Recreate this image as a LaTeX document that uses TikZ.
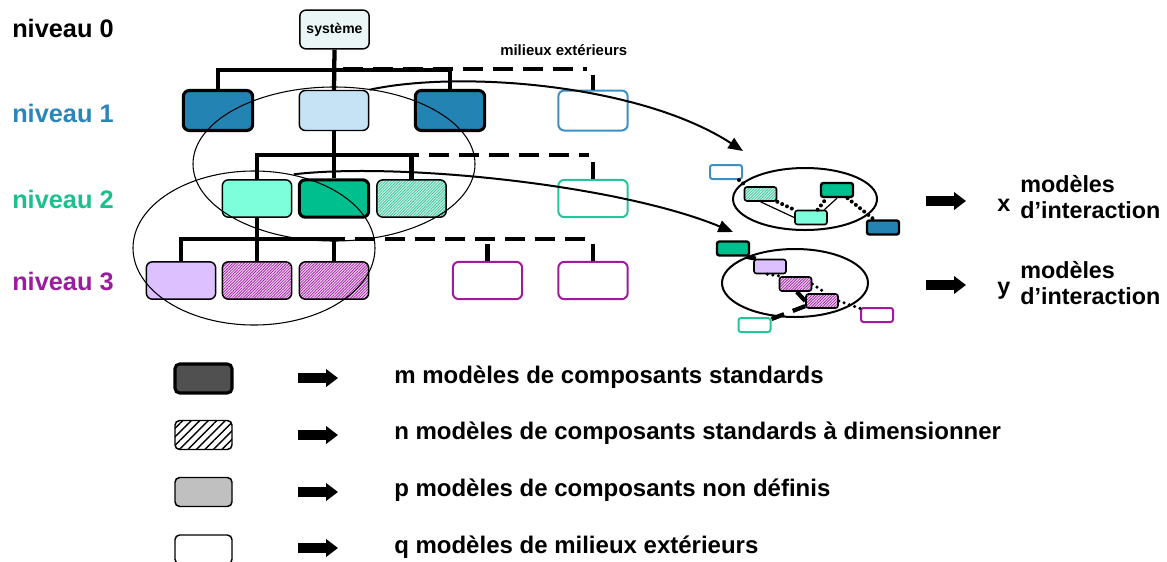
\documentclass[tikz,border=0pt]{standalone}
\usepackage{fontspec}
\setmainfont{Liberation Sans}
\usetikzlibrary{arrows.meta,patterns.meta}

\definecolor{stdblue}{HTML}{2384B4}
\definecolor{lightblue}{HTML}{C5E3F5}
\definecolor{extblue}{HTML}{3A8FC4}
\definecolor{sysfill}{HTML}{EAF6F6}
\definecolor{aqua}{HTML}{7DFFDB}
\definecolor{stdgreen}{HTML}{00BF8F}
\definecolor{extgreen}{HTML}{25C49A}
\definecolor{hgbg}{HTML}{D2F6EA}
\definecolor{hgline}{HTML}{3CC39C}
\definecolor{lavender}{HTML}{DCC0FF}
\definecolor{extpurple}{HTML}{A0199F}
\definecolor{hpbg}{HTML}{F2D4F2}
\definecolor{hpline}{HTML}{A42CA8}
\definecolor{txtblue}{HTML}{2A86B8}
\definecolor{txtgreen}{HTML}{1CC08F}
\definecolor{txtpurple}{HTML}{9C1C9E}
\definecolor{stdgray}{HTML}{505050}
\definecolor{undefgray}{HTML}{C0C0C0}

\begin{document}
\begin{tikzpicture}[x=0.75pt,y=-0.75pt,
  font=\bfseries,
  box/.style={draw, rounded corners=4.5pt, minimum width=52pt, minimum height=28pt,
    inner sep=0pt, line width=1.1pt},
  stdbox/.style={box, line width=2.3pt},
  extbox/.style={box, fill=white, line width=1.5pt},
  sbox/.style={draw, rounded corners=1.8pt, minimum width=24pt, minimum height=10.5pt,
    inner sep=0pt, line width=1.2pt},
  sstd/.style={sbox, line width=1.8pt},
  sext/.style={sbox, fill=white, line width=1.5pt},
  hatchgreen/.style={preaction={fill=hgbg}, pattern={Lines[angle=45,distance=1.5pt,line width=0.6pt]}, pattern color=hgline},
  hatchpurple/.style={preaction={fill=hpbg}, pattern={Lines[angle=45,distance=1.5pt,line width=0.6pt]}, pattern color=hpline},
  hatchblack/.style={preaction={fill=white}, pattern={Lines[angle=45,distance=4.5pt,line width=1.1pt]}, pattern color=black},
  tree/.style={line width=3.2pt},
  ext/.style={line width=3.6pt, dash pattern=on 15pt off 7.5pt},
  extv/.style={line width=3.6pt},
  ring/.style={line width=0.8pt},
  sring/.style={line width=1.5pt},
  curv/.style={line width=1.5pt, -{Triangle[length=11pt,width=9pt]}},
  blk/.style={line width=7.5pt, -{Triangle[length=9pt,width=13pt]}},
  dots/.style={line width=3pt, line cap=round, dash pattern=on 0pt off 4pt},
  sdots/.style={line width=2.6pt, line cap=round, dash pattern=on 0pt off 4.2pt},
  thinlink/.style={line width=0.9pt},
  thicklink/.style={line width=3.2pt},
  label/.style={anchor=base west, inner sep=0pt},
  lvl/.style={label, font=\fontsize{19}{22}\selectfont\bfseries},
  legtxt/.style={label, font=\fontsize{18}{21}\selectfont\bfseries},
  rtxt/.style={label, font=\fontsize{17.5}{20}\selectfont\bfseries}
]
\useasboundingbox (0,0) rectangle (1167,561);
\clip (0,0) rectangle (1167,561);

% level labels
\node[lvl] (n0) at (12,37) {niveau 0};
\node[lvl, text=txtblue] (n1) at (12,122) {niveau 1};
\node[lvl, text=txtgreen] (n2) at (12,208) {niveau 2};
\node[lvl, text=txtpurple] (n3) at (12,290) {niveau 3};

% level 0
\node[box, fill=sysfill, minimum height=29pt, font=\fontsize{10.5}{12}\selectfont\bfseries] (sys) at (334.5,29.5) {système};
\node[label, font=\fontsize{11.2}{13}\selectfont\bfseries] (milieux) at (500,55) {milieux extérieurs};

% level 1
\node[stdbox, fill=stdblue, minimum height=30pt] (A) at (218,110.5) {};
\node[box, fill=lightblue, minimum height=30pt] (B) at (334,110.5) {};
\node[stdbox, fill=stdblue, minimum height=30pt] (C) at (450,110.5) {};
\node[extbox, draw=extblue, minimum height=30pt] (D) at (593,110.5) {};

% level 2
\node[box, fill=aqua] (E) at (257,198.5) {};
\node[stdbox, fill=stdgreen] (F) at (334,198.5) {};
\node[box, hatchgreen] (G) at (411.5,198.5) {};
\node[extbox, draw=extgreen] (H) at (593,198.5) {};

% level 3
\node[box, fill=lavender] (I) at (181,280.5) {};
\node[box, hatchpurple] (J) at (257,280.5) {};
\node[box, hatchpurple] (K) at (334,280.5) {};
\node[extbox, draw=extpurple] (L) at (487.5,280.5) {};
\node[extbox, draw=extpurple] (M) at (593,280.5) {};

% tree branches
\coordinate (h0) at (0,70);
\coordinate (h1) at (0,155);
\coordinate (h2) at (0,239);
\coordinate (e0a) at (343,69);
\coordinate (e0b) at (587,69);
\coordinate (e1a) at (339,155);
\coordinate (e1b) at (589,155);
\coordinate (e2a) at (265,239);
\coordinate (e2b) at (586,239);

\draw[tree] (sys.south) -- (B.north);
\draw[tree] (A.north) -- (A.north |- h0) -- (C.north |- h0) -- (C.north);
\draw[ext] (e0a) -- (e0b);
\draw[extv] ([yshift=11pt]D.north) -- (D.north);

\draw[tree] (B.south) -- (F.north);
\draw[tree] (E.north) -- (E.north |- h1) -- (G.north |- h1) -- (G.north);
\draw[ext] (e1a) -- (e1b);
\draw[extv] ([yshift=12.5pt]H.north) -- (H.north);

\draw[tree] (E.south) -- (J.north);
\draw[tree] (I.north) -- (I.north |- h2) -- (K.north |- h2) -- (K.north);
\draw[ext] (e2a) -- (e2b);
\draw[extv] ([yshift=12.5pt]L.north) -- (L.north);
\draw[extv] ([yshift=12.5pt]M.north) -- (M.north);

% grouping rings
\draw[ring] (334,164) ellipse [x radius=105.75pt, y radius=57.75pt];
\draw[ring] (254,248) ellipse [x radius=90.75pt, y radius=57.75pt];

% upper interaction group
\draw[sring] (805,199) ellipse [x radius=54pt, y radius=23.25pt];
\node[sext, draw=extblue] (u1) at (726,172) {};
\node[sbox, hatchgreen] (uh) at (760.5,194) {};
\node[sbox, fill=aqua] (ua) at (811,217.5) {};
\node[sstd, fill=stdgreen] (ug) at (837,190) {};
\node[sstd, fill=stdblue] (udb) at (883,227.5) {};

\draw[dots] ([xshift=-3pt]u1.south east) -- ([xshift=2pt]uh.north west);
\draw[thinlink] (uh.south) -- (ua.west);
\draw[dots] (uh.south east) -- (ua.north west);
\draw[dots] ([xshift=5pt]ua.north) -- ([xshift=5pt]ug.south west);
\draw[thinlink] ([xshift=10pt]ua.north) -- (ug.south);
\draw[dots] ([xshift=-5pt]ug.south east) -- ([xshift=6pt]udb.north west);

% lower interaction group
\draw[sring] (795,283) ellipse [x radius=54.75pt, y radius=25.5pt];
\node[sstd, fill=stdgreen] (lgr) at (733,248.5) {};
\node[sbox, fill=lavender] (llav) at (770,266.5) {};
\node[sbox, hatchpurple] (lh1) at (795.5,284) {};
\node[sbox, hatchpurple] (lh2) at (822,301) {};
\node[sext, draw=extpurple] (lmil) at (877,315) {};
\node[sext, draw=extgreen] (laq) at (754.5,325) {};

\draw[thicklink] ([xshift=-3pt]lgr.south east) -- ([xshift=2pt]llav.north west);
\draw[sdots] ([xshift=-2pt]llav.south) -- ([xshift=2pt]lh1.north west);
\draw[sdots] (lh1.east) -- ([xshift=3pt]lh2.north);
\draw[thicklink] ([xshift=1pt]lh1.south) -- (lh2.west);
\draw[thicklink, dash pattern=on 10pt off 7pt] ([yshift=2pt]lh2.south west) -- ([yshift=-1.5pt]laq.north east);
\draw[sdots] (lh2.east) -- ([yshift=-1pt]lmil.north west);

% projections into the interaction groups
\coordinate (t1) at (743,151);
\coordinate (t2) at (733,232);
\draw[curv] (B.north east) .. controls (460,70) and (640,84) .. (t1);
\draw[curv] ([shift={(-3pt,3pt)}]F.north west) .. controls (400,162) and (620,185) .. (t2);

% counts of interaction models
\coordinate (bx0) at (926,201);
\coordinate (bx1) at (966,201);
\coordinate (by0) at (926,285);
\coordinate (by1) at (966,285);
\draw[blk] (bx0) -- (bx1);
\draw[blk] (by0) -- (by1);
\node[rtxt] (xv) at (997,211) {x};
\node[rtxt] (xm) at (1020,192) {modèles};
\node[rtxt] (xi) at (1020,218) {d’interaction};
\node[rtxt] (yv) at (997,294) {y};
\node[rtxt] (ym) at (1020,278) {modèles};
\node[rtxt] (yi) at (1020,304) {d’interaction};

% legend
\tikzset{legbox/.style={draw, rounded corners=3.5pt, minimum width=42.75pt, minimum height=21.75pt, inner sep=0pt, line width=1.1pt}}
\node[legbox, fill=stdgray, line width=2.3pt] (k1) at (203.5,378.5) {};
\node[legbox, hatchblack] (k2) at (203.5,435) {};
\node[legbox, fill=undefgray] (k3) at (203.5,492) {};
\node[legbox, fill=white] (k4) at (203.5,549.5) {};

\coordinate (a1s) at (298,378); \coordinate (a1e) at (338,378);
\coordinate (a2s) at (298,435); \coordinate (a2e) at (338,435);
\coordinate (a3s) at (298,492); \coordinate (a3e) at (338,492);
\coordinate (a4s) at (298,548); \coordinate (a4e) at (338,548);
\draw[blk] (a1s) -- (a1e);
\draw[blk] (a2s) -- (a2e);
\draw[blk] (a3s) -- (a3e);
\draw[blk] (a4s) -- (a4e);

\node[legtxt] (l1) at (394,383) {m modèles de composants standards};
\node[legtxt] (l2) at (394,439) {n modèles de composants standards à dimensionner};
\node[legtxt] (l3) at (394,496) {p modèles de composants non définis};
\node[legtxt] (l4) at (394,553) {q modèles de milieux extérieurs};
\end{tikzpicture}
\end{document}
